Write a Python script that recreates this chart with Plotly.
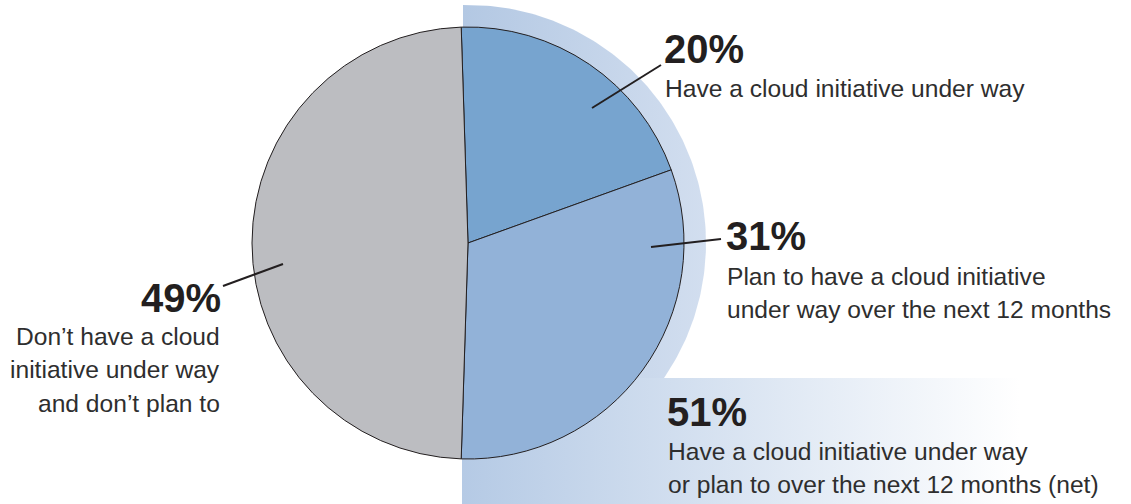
import numpy as np
import plotly.graph_objects as go

# ---- data ----
categories = ["Have a cloud initiative under way",
              "Plan to have a cloud initiative under way over the next 12 months",
              "Don't have a cloud initiative under way and don't plan to"]
values = [20, 31, 49]
slice_colors = ["#77a4cf", "#92b2d8", "#bcbdc1"]
pct_labels = ["20%", "31%", "49%"]
desc_20 = ["Have a cloud initiative under way"]
desc_31 = ["Plan to have a cloud initiative", "under way over the next 12 months"]
desc_49 = ["Don\u2019t have a cloud", "initiative under way", "and don\u2019t plan to"]
net_label = "51%"
desc_net = ["Have a cloud initiative under way", "or plan to over the next 12 months (net)"]

W, H = 1131, 504
cx, cy, R = 468, 243, 216
R_ring = 238

fig = go.Figure()

# ring (half disc behind the pie) with horizontal gradient
th = np.linspace(-np.pi / 2, np.pi / 2, 200)
rx = list(cx + R_ring * np.cos(th))
ry = list(cy + R_ring * np.sin(th))
rx = [463] + rx + [463]
ry = [cy - R_ring] + ry + [cy + R_ring]
fig.add_trace(go.Scatter(
    x=rx, y=ry, mode="lines", fill="toself", line=dict(width=0),
    fillgradient=dict(type="horizontal", colorscale=[[0, "#b3c8e3"], [1, "#d2deef"]],
                      start=463, stop=cx + R_ring),
    hoverinfo="skip", showlegend=False))

# bottom band with gradient fading to white
fig.add_trace(go.Scatter(
    x=[462, W, W, 462, 462], y=[378, 378, H, H, 378], mode="lines", fill="toself",
    line=dict(width=0),
    fillgradient=dict(type="horizontal", colorscale=[[0, "#b5cae5"], [1, "#ffffff"]],
                      start=462, stop=1020),
    hoverinfo="skip", showlegend=False))

# pie
fig.add_trace(go.Pie(
    labels=categories, values=values, sort=False, direction="clockwise",
    rotation=-1.8, textinfo="none", hoverinfo="skip",
    marker=dict(colors=slice_colors, line=dict(color="#231f20", width=1)),
    domain=dict(x=[(cx - R) / W, (cx + R) / W], y=[(H - cy - R) / H, (H - cy + R) / H]),
    showlegend=False))

BIG = dict(family="Liberation Sans, Arial, sans-serif", size=40, color="#231f20")
SMALL = dict(family="Liberation Sans, Arial, sans-serif", size=24.6, color="#2e2e2e")
annotations = []


def add_text(text, x, baseline, font, anchor):
    annotations.append(dict(
        x=x, y=baseline - 0.36 * font["size"], xref="x", yref="y", text=text,
        showarrow=False, xanchor=anchor, yanchor="middle", font=font))


# 20%
add_text("<b>%s</b>" % pct_labels[0], 662, 63, BIG, "left")
for i, t in enumerate(desc_20):
    add_text(t, 663, 97 + i * 33.5, SMALL, "left")
# 31%
add_text("<b>%s</b>" % pct_labels[1], 724, 250, BIG, "left")
for i, t in enumerate(desc_31):
    add_text(t, 725, 285 + i * 33.5, SMALL, "left")
# 49%
add_text("<b>%s</b>" % pct_labels[2], 223, 312, BIG, "right")
for i, t in enumerate(desc_49):
    add_text(t, 222, 345 + i * 33.5, SMALL, "right")
# 51% net
add_text("<b>%s</b>" % net_label, 665, 426, BIG, "left")
for i, t in enumerate(desc_net):
    add_text(t, 666, 460 + i * 33, SMALL, "left")

leader = dict(color="#231f20", width=2)
shapes = [
    dict(type="line", xref="x", yref="y", x0=592, y0=108, x1=661, y1=65, line=leader),
    dict(type="line", xref="x", yref="y", x0=651, y0=247, x1=721, y1=239, line=leader),
    dict(type="line", xref="x", yref="y", x0=283, y0=264, x1=223, y1=286, line=leader),
]

fig.update_layout(
    width=W, height=H, margin=dict(l=0, r=0, t=0, b=0),
    paper_bgcolor="white", plot_bgcolor="white",
    xaxis=dict(range=[0, W], visible=False, fixedrange=True),
    yaxis=dict(range=[H, 0], visible=False, fixedrange=True),
    annotations=annotations, shapes=shapes, showlegend=False,
)

fig.write_html("out.html", config={"displayModeBar": False},
               post_script="document.body.style.margin='0';document.body.style.overflow='hidden';")
